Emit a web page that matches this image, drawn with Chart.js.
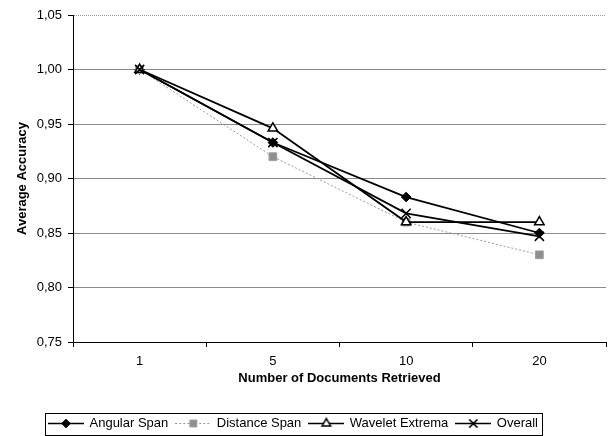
<!DOCTYPE html>
<html>
<head>
<meta charset="utf-8">
<script src="https://cdn.jsdelivr.net/npm/chart.js@4/dist/chart.umd.min.js"></script>
<style>
  html, body { margin: 0; padding: 0; background: #fff; overflow: hidden; }
  #wrap { width: 611px; height: 436px; overflow: hidden; }
</style>
</head>
<body>
<div id="wrap"><canvas id="chart" width="614" height="440"></canvas></div>
<script>
// data
const docsRetrieved = ['1', '5', '10', '20'];
const angularSpan = [1.000, 0.933, 0.883, 0.850];
const distanceSpan = [1.000, 0.920, 0.860, 0.830];
const waveletExtrema = [1.000, 0.946, 0.860, 0.860];
const overall = [1.000, 0.933, 0.868, 0.847];
const yTickValues = [0.75, 0.80, 0.85, 0.90, 0.95, 1.00, 1.05];

const FONT = "'Liberation Sans', Arial, sans-serif";
const GRID = '#8a8a8a';

// little line + marker picture for each legend entry
function legendSymbol(ds) {
    const c = document.createElement('canvas');
    c.width = 36; c.height = 13;
    const ctx = c.getContext('2d');
    ctx.strokeStyle = ds.borderColor;
    ctx.lineWidth = Math.min(ds.borderWidth, 1.5);
    ctx.setLineDash(ds.borderDash || []);
    ctx.beginPath();
    ctx.moveTo(0, 6.5); ctx.lineTo(36, 6.5);
    ctx.stroke();
    ctx.setLineDash([]);
    ctx.fillStyle = ds.pointBackgroundColor;
    ctx.strokeStyle = ds.pointBorderColor;
    ctx.lineWidth = ds.pointBorderWidth;
    Chart.helpers.drawPoint(ctx, {
        pointStyle: ds.pointStyle,
        radius: ds.pointRadius * 0.9,
        rotation: 0,
        borderWidth: ds.pointBorderWidth
    }, 18, 6.5);
    return c;
}

const legendFrame = {
    id: 'legendFrame',
    afterLayout(chart) {
        // legend starts near the left edge in the reference
        chart.legend.left = 41;
        chart.legend.right = chart.width;
    },
    afterDraw(chart) {
        const boxes = chart.legend.legendHitBoxes;
        if (!boxes || !boxes.length) return;
        const ctx = chart.ctx;
        const l = Math.min(...boxes.map(b => b.left)) - 4;
        const r = Math.max(...boxes.map(b => b.left + b.width)) + 4;
        const t = Math.min(...boxes.map(b => b.top)) - 4.5;
        const b = Math.max(...boxes.map(b => b.top + b.height)) + 4;
        ctx.save();
        ctx.strokeStyle = '#000';
        ctx.lineWidth = 1;
        ctx.strokeRect(Math.round(l) + 0.5, Math.round(t) + 0.5, Math.round(r - l), Math.round(b - t));
        ctx.restore();
    }
};

const datasets = [
    {
        label: 'Angular Span',
        data: angularSpan,
        order: 4,
        borderColor: '#000', borderWidth: 1.8,
        pointStyle: 'rectRot', pointRadius: 4.8,
        pointBackgroundColor: '#000', pointBorderColor: '#000', pointBorderWidth: 1
    },
    {
        label: 'Distance Span',
        data: distanceSpan,
        order: 3,
        borderColor: '#9a9a9a', borderWidth: 1, borderDash: [2, 2],
        pointStyle: 'rect', pointRadius: 5.5,
        pointBackgroundColor: '#8f8f8f', pointBorderColor: '#a0a0a0', pointBorderWidth: 1
    },
    {
        label: 'Wavelet Extrema',
        data: waveletExtrema,
        order: 2,
        borderColor: '#000', borderWidth: 1.8,
        pointStyle: 'triangle', pointRadius: 5.5,
        pointBackgroundColor: '#fff', pointBorderColor: '#000', pointBorderWidth: 1.5
    },
    {
        label: 'Overall',
        data: overall,
        order: 1,
        borderColor: '#000', borderWidth: 1.8,
        pointStyle: 'crossRot', pointRadius: 6.5,
        pointBackgroundColor: '#000', pointBorderColor: '#000', pointBorderWidth: 1.5
    }
];

new Chart(document.getElementById('chart').getContext('2d'), {
    type: 'line',
    data: { labels: docsRetrieved, datasets: datasets },
    plugins: [legendFrame],
    options: {
        responsive: false,
        animation: false,
        devicePixelRatio: 1,
        layout: { padding: { top: 15, right: 0, bottom: 0, left: 0 } },
        elements: { line: { tension: 0 } },
        plugins: {
            tooltip: { enabled: false },
            legend: {
                position: 'bottom',
                align: 'start',
                labels: {
                    font: { family: FONT, size: 13 },
                    color: '#000',
                    usePointStyle: true,
                    pointStyleWidth: 34,
                    boxHeight: 13,
                    padding: 8,
                    generateLabels(chart) {
                        return chart.data.datasets.map((ds, i) => ({
                            text: ds.label,
                            pointStyle: legendSymbol(ds),
                            fillStyle: 'transparent',
                            strokeStyle: 'transparent',
                            lineWidth: 0,
                            datasetIndex: i,
                            hidden: false
                        }));
                    }
                }
            }
        },
        scales: {
            x: {
                offset: true,
                afterFit(scale) { scale.height = 67; },
                grid: {
                    offset: true,
                    drawOnChartArea: false,
                    drawTicks: true,
                    tickLength: 5,
                    tickColor: '#000'
                },
                border: { color: '#000', width: 1 },
                ticks: { font: { family: FONT, size: 13 }, color: '#000', padding: 7 },
                title: {
                    display: true,
                    text: 'Number of Documents Retrieved',
                    font: { family: FONT, size: 13, weight: 'bold' },
                    color: '#000',
                    padding: { top: 0, bottom: 22.7 }
                }
            },
            y: {
                min: 0.75,
                max: 1.05,
                afterFit(scale) { scale.width = 73; },
                afterBuildTicks(scale) {
                    scale.ticks = yTickValues.map(v => ({ value: v }));
                },
                grid: {
                    color: ctx => ctx.tick && ctx.tick.value > 1.04 ? '#9a9a9a' : GRID,
                    drawTicks: true,
                    tickLength: 5,
                    tickColor: '#000'
                },
                border: {
                    color: '#000',
                    width: 1,
                    dash: ctx => ctx.tick && ctx.tick.value > 1.04 ? [1, 1] : []
                },
                ticks: {
                    font: { family: FONT, size: 13 },
                    color: '#000',
                    padding: 6,
                    callback: v => Number(v).toFixed(2).replace('.', ',')
                },
                title: {
                    display: true,
                    text: 'Average Accuracy',
                    font: { family: FONT, size: 13, weight: 'bold' },
                    color: '#000',
                    padding: { top: 15, bottom: 0 }
                }
            }
        }
    }
});
</script>
</body>
</html>
